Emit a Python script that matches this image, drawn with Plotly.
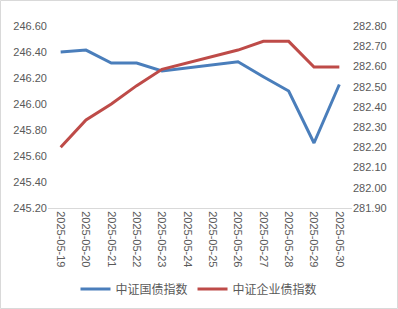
import plotly.graph_objects as go

dates = ["2025-05-19", "2025-05-20", "2025-05-21", "2025-05-22", "2025-05-23", "2025-05-24",
         "2025-05-25", "2025-05-26", "2025-05-27", "2025-05-28", "2025-05-29", "2025-05-30"]
gov_bond = [246.40, 246.415, 246.315, 246.315, 246.254, None, None, 246.325, 246.21, 246.10, 245.70, 246.15]
corp_bond = [282.20, 282.335, 282.414, 282.505, 282.586, None, None, 282.681, 282.724, 282.724, 282.597, 282.597]
left_ticks = [245.2, 245.4, 245.6, 245.8, 246.0, 246.2, 246.4, 246.6]
right_ticks = [281.9, 282.0, 282.1, 282.2, 282.3, 282.4, 282.5, 282.6, 282.7, 282.8]

font_fam = "Liberation Sans, Noto Sans CJK SC, sans-serif"
tick_color = "#595959"

fig = go.Figure()
fig.add_trace(go.Scatter(x=dates, y=gov_bond, name="中证国债指数", mode="lines",
                         line=dict(color="#4A7EBB", width=3), connectgaps=True, yaxis="y"))
fig.add_trace(go.Scatter(x=dates, y=corp_bond, name="中证企业债指数", mode="lines",
                         line=dict(color="#BE4B48", width=3), connectgaps=True, yaxis="y2"))

L, R, T, B = 48, 46, 26, 101
W, H = 398, 309
pw, ph = W - L - R, H - T - B

fig.update_layout(
    width=W, height=H,
    margin=dict(l=L, r=R, t=T, b=B, autoexpand=False),
    paper_bgcolor="white", plot_bgcolor="white",
    font=dict(family=font_fam, size=11, color=tick_color),
    showlegend=True,
    legend=dict(orientation="h", x=0.5, xanchor="center", xref="container",
                y=(H - 289) / H, yref="container", yanchor="middle",
                font=dict(size=12, color=tick_color, family="Noto Sans CJK SC, sans-serif"),
                itemwidth=30, tracegroupgap=0),
    xaxis=dict(type="category", categoryorder="array", categoryarray=dates, tickangle=90,
               showgrid=False, showline=True, linecolor="#D9D9D9", linewidth=1,
               ticks="", tickfont=dict(size=11, color=tick_color), range=[-0.5, len(dates) - 0.5]),
    yaxis=dict(range=[245.2, 246.6], tickvals=left_ticks, tickformat=".2f", showgrid=False,
               zeroline=False, showline=False, ticks="", tickfont=dict(size=11, color=tick_color)),
    yaxis2=dict(range=[281.9, 282.8], tickvals=right_ticks, tickformat=".2f", overlaying="y", side="right",
                showgrid=False, zeroline=False, showline=False, ticks="", tickfont=dict(size=11, color=tick_color)),
    shapes=[dict(type="rect", xref="paper", yref="paper",
                 x0=(0.5 - L) / pw, x1=(W - 0.5 - L) / pw,
                 y0=-(B - 0.5) / ph, y1=(H - 0.5 - B) / ph,
                 line=dict(color="#D9D9D9", width=1), fillcolor="rgba(0,0,0,0)", layer="below")],
)

fig.write_html("out.html")
